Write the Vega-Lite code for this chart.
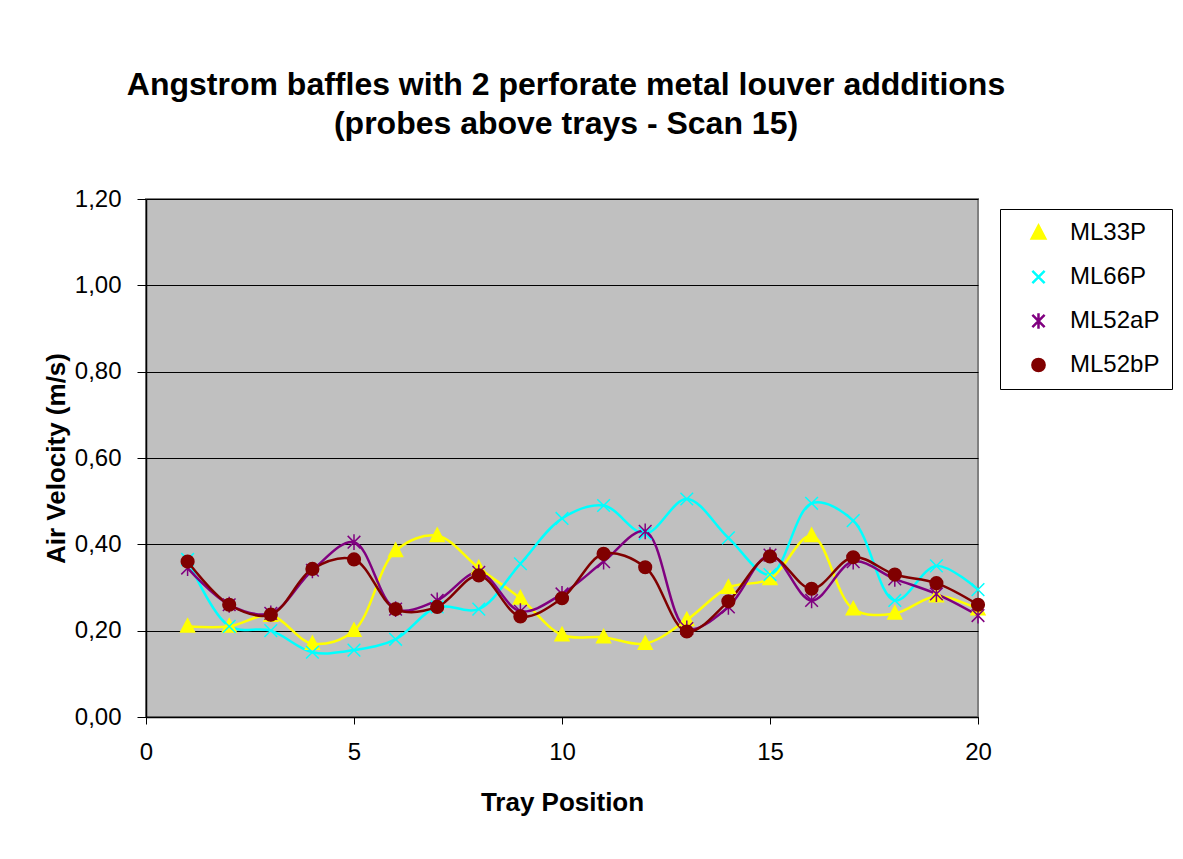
{
  "$schema": "https://vega.github.io/schema/vega-lite/v6.json",
  "width": 832,
  "height": 518,
  "autosize": {"type": "none"},
  "padding": {"left": 146, "top": 199, "right": 205, "bottom": 142},
  "background": "white",
  "title": {
    "text": ["Angstrom baffles with 2 perforate metal louver addditions", "(probes above trays - Scan 15)"],
    "fontSize": 32,
    "fontWeight": "bold",
    "font": "Liberation Sans",
    "color": "black",
    "lineHeight": 39,
    "anchor": "middle",
    "baseline": "alphabetic",
    "offset": 21,
    "dx": 4
  },
  "config": {
    "font": "Liberation Sans",
    "view": {"fill": "#C0C0C0", "stroke": "#808080", "strokeWidth": 2},
    "legend": {
      "title": null,
      "orient": "none",
      "legendX": 854,
      "legendY": 10,
      "padding": 12,
      "strokeColor": "black",
      "fillColor": "white",
      "labelFontSize": 24,
      "labelColor": "black",
      "symbolSize": 150,
      "symbolStrokeWidth": 2.5,
      "symbolOffset": 14.5,
      "labelOffset": 19.5,
      "clipHeight": 24,
      "rowPadding": 20,
      "symbolOpacity": 1
    }
  },
  "data": {
    "values": [
      {"tray": 1, "v": 0.21, "series": "ML33P"},
      {"tray": 2, "v": 0.21, "series": "ML33P"},
      {"tray": 3, "v": 0.235, "series": "ML33P"},
      {"tray": 4, "v": 0.17, "series": "ML33P"},
      {"tray": 5, "v": 0.2, "series": "ML33P"},
      {"tray": 6, "v": 0.385, "series": "ML33P"},
      {"tray": 7, "v": 0.42, "series": "ML33P"},
      {"tray": 8, "v": 0.345, "series": "ML33P"},
      {"tray": 9, "v": 0.275, "series": "ML33P"},
      {"tray": 10, "v": 0.19, "series": "ML33P"},
      {"tray": 11, "v": 0.185, "series": "ML33P"},
      {"tray": 12, "v": 0.17, "series": "ML33P"},
      {"tray": 13, "v": 0.225, "series": "ML33P"},
      {"tray": 14, "v": 0.3, "series": "ML33P"},
      {"tray": 15, "v": 0.32, "series": "ML33P"},
      {"tray": 16, "v": 0.42, "series": "ML33P"},
      {"tray": 17, "v": 0.25, "series": "ML33P"},
      {"tray": 18, "v": 0.24, "series": "ML33P"},
      {"tray": 19, "v": 0.28, "series": "ML33P"},
      {"tray": 20, "v": 0.25, "series": "ML33P"},
      {"tray": 1, "v": 0.365, "series": "ML66P"},
      {"tray": 2, "v": 0.21, "series": "ML66P"},
      {"tray": 3, "v": 0.2, "series": "ML66P"},
      {"tray": 4, "v": 0.15, "series": "ML66P"},
      {"tray": 5, "v": 0.155, "series": "ML66P"},
      {"tray": 6, "v": 0.18, "series": "ML66P"},
      {"tray": 7, "v": 0.255, "series": "ML66P"},
      {"tray": 8, "v": 0.25, "series": "ML66P"},
      {"tray": 9, "v": 0.355, "series": "ML66P"},
      {"tray": 10, "v": 0.46, "series": "ML66P"},
      {"tray": 11, "v": 0.49, "series": "ML66P"},
      {"tray": 12, "v": 0.425, "series": "ML66P"},
      {"tray": 13, "v": 0.505, "series": "ML66P"},
      {"tray": 14, "v": 0.415, "series": "ML66P"},
      {"tray": 15, "v": 0.33, "series": "ML66P"},
      {"tray": 16, "v": 0.495, "series": "ML66P"},
      {"tray": 17, "v": 0.455, "series": "ML66P"},
      {"tray": 18, "v": 0.27, "series": "ML66P"},
      {"tray": 19, "v": 0.35, "series": "ML66P"},
      {"tray": 20, "v": 0.295, "series": "ML66P"},
      {"tray": 1, "v": 0.345, "series": "ML52aP"},
      {"tray": 2, "v": 0.26, "series": "ML52aP"},
      {"tray": 3, "v": 0.24, "series": "ML52aP"},
      {"tray": 4, "v": 0.34, "series": "ML52aP"},
      {"tray": 5, "v": 0.405, "series": "ML52aP"},
      {"tray": 6, "v": 0.25, "series": "ML52aP"},
      {"tray": 7, "v": 0.27, "series": "ML52aP"},
      {"tray": 8, "v": 0.335, "series": "ML52aP"},
      {"tray": 9, "v": 0.245, "series": "ML52aP"},
      {"tray": 10, "v": 0.285, "series": "ML52aP"},
      {"tray": 11, "v": 0.36, "series": "ML52aP"},
      {"tray": 12, "v": 0.43, "series": "ML52aP"},
      {"tray": 13, "v": 0.205, "series": "ML52aP"},
      {"tray": 14, "v": 0.255, "series": "ML52aP"},
      {"tray": 15, "v": 0.375, "series": "ML52aP"},
      {"tray": 16, "v": 0.27, "series": "ML52aP"},
      {"tray": 17, "v": 0.36, "series": "ML52aP"},
      {"tray": 18, "v": 0.32, "series": "ML52aP"},
      {"tray": 19, "v": 0.285, "series": "ML52aP"},
      {"tray": 20, "v": 0.235, "series": "ML52aP"},
      {"tray": 1, "v": 0.36, "series": "ML52bP"},
      {"tray": 2, "v": 0.26, "series": "ML52bP"},
      {"tray": 3, "v": 0.237, "series": "ML52bP"},
      {"tray": 4, "v": 0.343, "series": "ML52bP"},
      {"tray": 5, "v": 0.365, "series": "ML52bP"},
      {"tray": 6, "v": 0.25, "series": "ML52bP"},
      {"tray": 7, "v": 0.255, "series": "ML52bP"},
      {"tray": 8, "v": 0.328, "series": "ML52bP"},
      {"tray": 9, "v": 0.233, "series": "ML52bP"},
      {"tray": 10, "v": 0.275, "series": "ML52bP"},
      {"tray": 11, "v": 0.378, "series": "ML52bP"},
      {"tray": 12, "v": 0.347, "series": "ML52bP"},
      {"tray": 13, "v": 0.198, "series": "ML52bP"},
      {"tray": 14, "v": 0.268, "series": "ML52bP"},
      {"tray": 15, "v": 0.372, "series": "ML52bP"},
      {"tray": 16, "v": 0.297, "series": "ML52bP"},
      {"tray": 17, "v": 0.37, "series": "ML52bP"},
      {"tray": 18, "v": 0.33, "series": "ML52bP"},
      {"tray": 19, "v": 0.31, "series": "ML52bP"},
      {"tray": 20, "v": 0.26, "series": "ML52bP"}
    ]
  },
  "encoding": {
    "x": {
      "field": "tray",
      "type": "quantitative",
      "scale": {"domain": [0, 20], "nice": false, "zero": false},
      "axis": {
        "title": "Tray Position",
        "values": [0, 5, 10, 15, 20],
        "grid": false,
        "domainColor": "black",
        "domainWidth": 1.5,
        "tickColor": "black",
        "tickSize": 7,
        "labelFontSize": 24,
        "labelColor": "black",
        "labelPadding": 16,
        "labelFlush": false,
        "titleFontSize": 26,
        "titleFontWeight": "bold",
        "titleColor": "black",
        "titlePadding": 25
      }
    },
    "y": {
      "field": "v",
      "type": "quantitative",
      "scale": {"domain": [0, 1.2], "nice": false},
      "axis": {
        "title": "Air Velocity (m/s)",
        "values": [0, 0.2, 0.4, 0.6, 0.8, 1.0, 1.2],
        "labelExpr": "replace(format(datum.value, '.2f'), '.', ',')",
        "grid": true,
        "gridColor": "black",
        "gridWidth": 1,
        "domainColor": "black",
        "domainWidth": 1.5,
        "tickColor": "black",
        "tickSize": 9,
        "labelFontSize": 24,
        "labelColor": "black",
        "labelPadding": 16,
        "labelFlush": false,
        "titleFontSize": 26,
        "titleFontWeight": "bold",
        "titleColor": "black",
        "titlePadding": 5
      }
    }
  },
  "layer": [
    {
      "mark": {"type": "line", "interpolate": "catmull-rom", "strokeWidth": 2.5},
      "encoding": {
        "color": {
          "field": "series",
          "type": "nominal",
          "scale": {
            "domain": ["ML33P", "ML66P", "ML52aP", "ML52bP"],
            "range": ["#FFFF00", "#00FFFF", "#800080", "#800000"]
          }
        }
      }
    },
    {
      "mark": {"type": "point", "filled": true, "size": 160, "strokeWidth": 1.5, "opacity": 1},
      "encoding": {
        "fill": {
          "field": "series",
          "type": "nominal",
          "scale": {
            "domain": ["ML33P", "ML66P", "ML52aP", "ML52bP"],
            "range": ["#FFFF00", "#00FFFF", "#800080", "#800000"]
          },
          "legend": {
            "encode": {
              "symbols": {
                "update": {
                  "shape": {"signal": "datum.value === 'ML33P' ? 'M-4.3,0H4.3M0,-1.2L1.15,0.9L-1.15,0.9Z' : datum.value === 'ML66P' ? 'M-4.3,0H4.3M-1,-1L1,1M-1,1L1,-1' : datum.value === 'ML52aP' ? 'M-4.3,0H4.3M-1,-1L1,1M-1,1L1,-1M0,-1.25V1.25' : 'M-4.3,0H4.3M1.1,0A1.1,1.1 0 1,1 -1.1,0A1.1,1.1 0 1,1 1.1,0Z'"},
                  "stroke": {"scale": "stroke", "field": "value"},
                  "fill": {"scale": "fill", "field": "value"}
                }
              }
            }
          }
        },
        "stroke": {
          "field": "series",
          "type": "nominal",
          "scale": {
            "domain": ["ML33P", "ML66P", "ML52aP", "ML52bP"],
            "range": ["#FFFF00", "#00FFFF", "#800080", "#800000"]
          }
        },
        "shape": {
          "field": "series",
          "type": "nominal",
          "scale": {
            "domain": ["ML33P", "ML66P", "ML52aP", "ML52bP"],
            "range": ["M0,-1.2L1.1,0.9L-1.1,0.9Z", "M-1,-1L1,1M-1,1L1,-1", "M-1,-1L1,1M-1,1L1,-1M0,-1.25L0,1.25", "circle"]
          }
        }
      }
    }
  ]
}
